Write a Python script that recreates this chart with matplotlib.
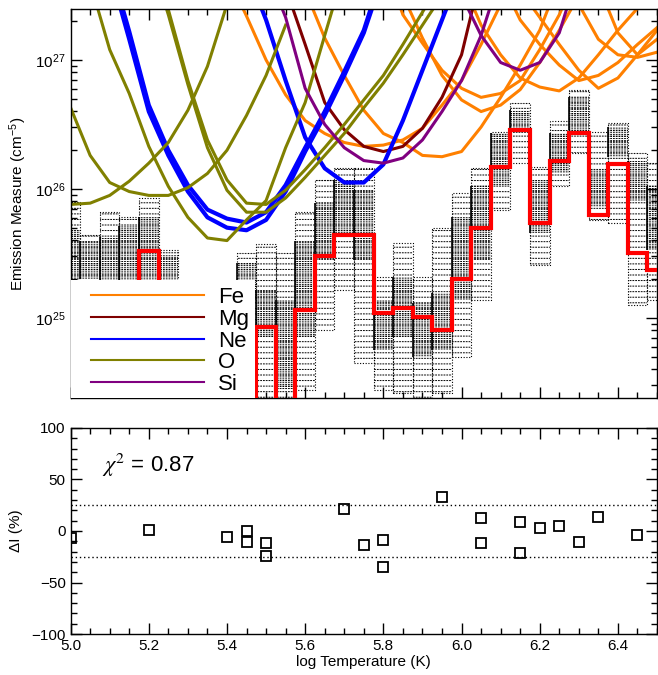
import numpy as np
import matplotlib.pyplot as plt
from matplotlib.lines import Line2D
from matplotlib.ticker import MultipleLocator, LogLocator, NullFormatter

plt.rcParams['font.family'] = ['Liberation Sans', 'DejaVu Sans']
plt.rcParams['mathtext.fontset'] = 'stix'
plt.rcParams['hatch.linewidth'] = 0.7

# DEM temperature bins (log T, 0.05 dex wide)
log_t = [5.00, 5.05, 5.10, 5.15, 5.20, 5.25, 5.30, 5.35, 5.40, 5.45, 5.50,
         5.55, 5.60, 5.65, 5.70, 5.75, 5.80, 5.85, 5.90, 5.95, 6.00, 6.05,
         6.10, 6.15, 6.20, 6.25, 6.30, 6.35, 6.40, 6.45, 6.50]

# best-fit DEM, log10 EM (cm^-5)
dem_best = [25.20, 25.10, 25.20, 25.25, 25.52, 25.10, 24.90, 24.70, 24.50, 24.20, 24.93,
            24.20, 25.06, 25.48, 25.64, 25.64, 25.04, 25.08, 25.01, 24.91, 25.30, 25.70,
            26.17, 26.46, 25.74, 26.22, 26.43, 25.80, 26.19, 25.50, 25.37]

# spread of the MCMC solutions: full range and dense core
mc_hi = [25.90, 25.64, 25.82, 25.78, 25.93, 25.53, 25.20, 25.20, 25.10, 25.50, 25.57,
         25.50, 25.82, 26.07, 26.16, 26.16, 25.32, 25.58, 25.32, 25.70, 25.97, 26.16,
         26.44, 26.67, 26.17, 26.53, 26.77, 26.44, 26.51, 26.28, 26.20]
mc_lo = [24.90, 24.90, 24.80, 24.80, 24.90, 24.90, 24.50, 24.50, 24.40, 24.20, 24.20,
         24.20, 24.44, 24.91, 25.22, 24.65, 24.44, 24.42, 24.20, 24.42, 24.70, 25.14,
         25.84, 26.20, 25.41, 26.02, 26.28, 25.76, 25.74, 25.10, 25.14]
core_hi = [25.68, 25.60, 25.63, 25.71, 25.78, 25.49, 25.00, 25.00, 25.00, 25.43, 25.22,
           25.14, 25.60, 25.89, 26.07, 25.99, 25.14, 25.32, 25.12, 25.19, 25.78, 26.02,
           26.43, 26.61, 26.07, 26.43, 26.71, 26.15, 26.48, 26.22, 26.02]
core_lo = [25.20, 25.30, 25.20, 25.20, 25.20, 25.20, 24.70, 24.70, 24.70, 25.14, 24.85,
           24.44, 24.85, 25.45, 25.63, 25.45, 24.75, 24.85, 24.70, 24.75, 25.14, 25.45,
           26.02, 26.43, 25.66, 26.12, 26.46, 25.86, 26.25, 25.91, 25.53]

# EM loci curves: (log T, log10 EM) per line
fe_loci = [
    ([5.40, 5.45, 5.50, 5.55, 5.60, 5.65, 5.70, 5.75, 5.80, 5.85, 5.90, 5.95, 6.00, 6.05, 6.10],
     [27.66, 27.34, 27.00, 26.73, 26.53, 26.43, 26.36, 26.33, 26.34, 26.38, 26.47, 26.65, 26.84, 27.12, 27.43]),
    ([5.60, 5.65, 5.70, 5.75, 5.80, 5.85, 5.90, 5.95, 6.00, 6.05, 6.10, 6.15, 6.20, 6.25],
     [27.54, 27.17, 26.88, 26.61, 26.43, 26.36, 26.26, 26.25, 26.29, 26.48, 26.71, 26.96, 27.23, 27.62]),
    ([5.80, 5.85, 5.90, 5.95, 6.00, 6.05, 6.10, 6.15, 6.20, 6.25, 6.30],
     [27.78, 27.35, 27.13, 26.92, 26.78, 26.71, 26.74, 26.84, 27.08, 27.35, 27.70]),
    ([5.80, 5.85, 5.90, 5.95, 6.00, 6.05, 6.10, 6.15, 6.20, 6.25, 6.30],
     [27.84, 27.50, 27.17, 26.88, 26.69, 26.60, 26.65, 26.77, 26.98, 27.23, 27.50]),
    ([6.00, 6.05, 6.10, 6.15, 6.20, 6.25, 6.30, 6.35, 6.40, 6.45, 6.50],
     [27.62, 27.27, 27.04, 26.86, 26.79, 26.76, 26.86, 27.04, 27.23, 27.40, 27.58]),
    ([6.10, 6.15, 6.20, 6.25, 6.30, 6.35, 6.40, 6.45, 6.50],
     [27.62, 27.31, 27.12, 26.96, 26.84, 26.88, 26.98, 27.12, 27.25]),
    ([6.15, 6.20, 6.25, 6.30, 6.35, 6.40, 6.45, 6.50],
     [27.54, 27.33, 27.12, 26.92, 26.78, 26.86, 27.04, 27.23]),
    ([6.25, 6.30, 6.35, 6.40, 6.45, 6.50],
     [27.62, 27.43, 27.16, 27.04, 27.02, 27.06]),
    ([6.35, 6.40, 6.45, 6.50],
     [27.58, 27.21, 27.04, 27.16]),
]
mg_loci = [
    ([5.55, 5.60, 5.65, 5.70, 5.75, 5.80, 5.85, 5.90, 5.95, 6.00, 6.05],
     [27.56, 27.12, 26.67, 26.46, 26.33, 26.29, 26.33, 26.47, 26.71, 27.04, 27.67]),
]
ne_loci = [
    ([5.10, 5.15, 5.20, 5.25, 5.30, 5.35, 5.40, 5.45, 5.50, 5.55, 5.60, 5.65, 5.70, 5.75, 5.80],
     [27.75, 27.22, 26.65, 26.30, 26.03, 25.84, 25.77, 25.74, 25.82, 26.03, 26.32, 26.60, 26.91, 27.23, 27.70]),
    ([5.10, 5.15, 5.20, 5.25, 5.30, 5.35, 5.40, 5.45, 5.50, 5.55, 5.60, 5.65, 5.70, 5.75, 5.80],
     [27.70, 27.16, 26.60, 26.26, 25.98, 25.78, 25.70, 25.68, 25.76, 25.98, 26.29, 26.57, 26.88, 27.21, 27.66]),
    ([5.45, 5.50, 5.55, 5.60, 5.65, 5.70, 5.75, 5.80, 5.85, 5.90, 5.95, 6.00],
     [27.70, 27.31, 26.84, 26.40, 26.16, 26.05, 26.05, 26.19, 26.53, 26.92, 27.31, 27.70]),
]
o_loci = [
    ([5.00, 5.05, 5.10, 5.15, 5.20, 5.25, 5.30, 5.35, 5.40, 5.45, 5.50, 5.55],
     [26.63, 26.26, 26.05, 25.98, 25.95, 25.95, 26.01, 26.12, 26.30, 26.57, 26.88, 27.27]),
    ([5.00, 5.05, 5.10, 5.15, 5.20, 5.25, 5.30, 5.35, 5.40],
     [25.88, 25.89, 25.95, 26.06, 26.20, 26.36, 26.61, 26.95, 27.43]),
    ([5.05, 5.10, 5.15, 5.20, 5.25, 5.30, 5.35, 5.40, 5.45, 5.50, 5.55, 5.60, 5.65, 5.70],
     [27.60, 27.08, 26.74, 26.33, 26.02, 25.78, 25.62, 25.60, 25.76, 25.91, 26.32, 26.67, 27.19, 27.70]),
    ([5.20, 5.25, 5.30, 5.35, 5.40, 5.45, 5.50, 5.55, 5.60, 5.65, 5.70, 5.75, 5.80, 5.85, 5.90, 5.95],
     [27.91, 27.39, 26.84, 26.38, 26.07, 25.89, 25.88, 25.99, 26.15, 26.32, 26.50, 26.69, 26.88, 27.12, 27.37, 27.62]),
    ([5.20, 5.25, 5.30, 5.35, 5.40, 5.45, 5.50, 5.55, 5.60, 5.65, 5.70, 5.75, 5.80, 5.85, 5.90, 5.95],
     [27.84, 27.35, 26.81, 26.32, 25.99, 25.82, 25.82, 25.93, 26.09, 26.26, 26.43, 26.63, 26.82, 27.04, 27.27, 27.50]),
]
si_loci = [
    ([5.50, 5.55, 5.60, 5.65, 5.70, 5.75, 5.80, 5.85, 5.90, 5.95, 6.00, 6.05, 6.10],
     [27.71, 27.33, 26.78, 26.50, 26.32, 26.22, 26.20, 26.24, 26.38, 26.60, 26.84, 27.19, 27.66]),
    ([6.00, 6.05, 6.10, 6.15, 6.20, 6.25, 6.30],
     [27.50, 27.19, 26.98, 26.92, 26.98, 27.21, 27.70]),
]

elements = ['Fe', 'Mg', 'Ne', 'O', 'Si']
el_colors = ['#ff8000', '#7f0000', '#0000ff', '#808000', '#800080']
el_loci = [fe_loci, mg_loci, ne_loci, o_loci, si_loci]

# intensity residuals, percent
res_t = [5.00, 5.20, 5.40, 5.45, 5.45, 5.50, 5.50, 5.70, 5.75, 5.80, 5.80,
         5.95, 6.05, 6.05, 6.15, 6.15, 6.20, 6.25, 6.30, 6.35, 6.45]
res_pct = [-7, 1, -6, 0, -11, -12, -24, 21, -14, -9, -35,
           33, 13, -12, 9, -21, 3, 5, -11, 14, -4]
chi2 = 0.87


def em(a):
    return 10.0 ** np.asarray(a)


fig = plt.figure(figsize=(6.58, 6.75), dpi=100)
ax = fig.add_axes([0.1073, 0.4104, 0.8912, 0.5763])
axr = fig.add_axes([0.1073, 0.0607, 0.8912, 0.3053])

w = 0.05
t = np.asarray(log_t)

# MCMC solutions as dotted texture, darker in the core
ax.bar(t, em(mc_hi) - em(mc_lo), bottom=em(mc_lo), width=w, fill=False,
       hatch='---', edgecolor='k', lw=0, zorder=1)
ax.bar(t, em(core_hi) - em(core_lo), bottom=em(core_lo), width=w, fill=False,
       hatch='--------', edgecolor='k', lw=0, zorder=1.1)
ax.bar(t, em(mc_hi) - em(mc_lo), bottom=em(mc_lo), width=w, fill=False,
       hatch='||||||', edgecolor='w', lw=0, zorder=1.2)
ax.bar(t, em(mc_hi) - em(mc_lo), bottom=em(mc_lo), width=w, fill=False,
       edgecolor='k', lw=0.8, linestyle=(0, (1, 1.5)), zorder=1.3)
ax.vlines(t - w / 2, em(core_lo), em(core_hi), color='k', lw=1.2, zorder=1.3)

# EM loci
for el, col, loci in zip(elements, el_colors, el_loci):
    lw = 3.0 if el == 'Ne' else 2.2
    for lt, le in loci:
        ax.plot(lt, em(le), color=col, lw=lw, zorder=2)

# best-fit DEM
edges = np.append(t - w / 2, t[-1] + w / 2)
ax.stairs(em(dem_best), edges, baseline=None, color='red', lw=3, zorder=3)

ax.set_yscale('log')
ax.set_xlim(5.0, 6.5)
ax.set_ylim(10 ** 24.38, 10 ** 27.395)
ax.xaxis.set_major_locator(MultipleLocator(0.2))
ax.xaxis.set_minor_locator(MultipleLocator(0.05))
ax.yaxis.set_minor_locator(LogLocator(subs=np.arange(2, 10)))
ax.yaxis.set_minor_formatter(NullFormatter())
ax.tick_params(which='both', direction='in', top=True, right=True,
               labelbottom=False, labelsize=11, width=1)
ax.tick_params(which='major', length=8)
ax.tick_params(which='minor', length=4)
ax.set_ylabel('Emission Measure (cm$^{\\mathdefault{-5}}$)', fontsize=11)
ax.yaxis.set_label_coords(-0.071, 0.5)

# legend sits on a white panel over the low-T corner
ax.add_patch(plt.Rectangle((0, 0), 0.3145, 0.303, transform=ax.transAxes,
                           facecolor='white', edgecolor='none', zorder=5))
handles = [Line2D([], [], color=c, lw=1.5) for c in el_colors]
leg = ax.legend(handles, elements, loc='lower left', bbox_to_anchor=(0.035, 0.008),
                frameon=False, fontsize=16, handlelength=5.1, handletextpad=0.6,
                labelspacing=0.03, borderpad=0, borderaxespad=0)
leg.set_zorder(6)

# residuals
axr.plot(res_t, res_pct, 's', mfc='none', mec='k', ms=7, mew=1.3)
for lvl in (25, -25):
    axr.axhline(lvl, color='k', lw=1, linestyle=(0, (1, 2)))
axr.set_xlim(5.0, 6.5)
axr.set_ylim(-100, 100)
axr.xaxis.set_major_locator(MultipleLocator(0.2))
axr.xaxis.set_minor_locator(MultipleLocator(0.05))
axr.yaxis.set_major_locator(MultipleLocator(50))
axr.yaxis.set_minor_locator(MultipleLocator(10))
axr.tick_params(which='both', direction='in', top=True, right=True,
                labelsize=11, width=1)
axr.tick_params(which='major', length=8)
axr.tick_params(which='minor', length=4)
axr.set_xlabel('log Temperature (K)', fontsize=11)
axr.xaxis.set_label_coords(0.5, -0.1)
axr.set_ylabel('\u0394I (%)', fontsize=11)
axr.yaxis.set_label_coords(-0.081, 0.5)
axr.text(0.053, 0.82, '$\\chi^2$ = %.2f' % chi2, transform=axr.transAxes,
         fontsize=16, va='center')

for a in (ax, axr):
    for s in a.spines.values():
        s.set_linewidth(1.0)

fig.savefig('out.png', dpi=100)
